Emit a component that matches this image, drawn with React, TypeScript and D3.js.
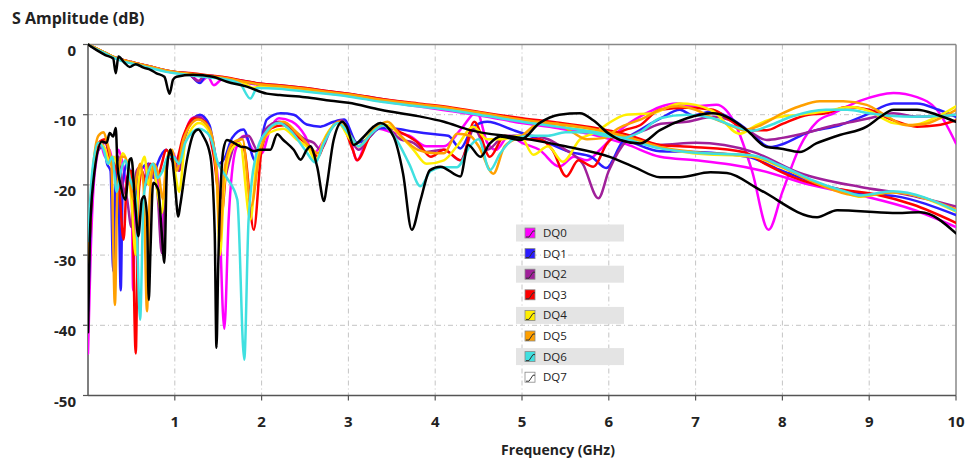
import React from "react";
import * as d3 from "d3";

type Pt = [number, number];

const xTicks = [1, 2, 3, 4, 5, 6, 7, 8, 9, 10];
const yTicks = [0, -10, -20, -30, -40, -50];
const seriesNames = ["DQ0", "DQ1", "DQ2", "DQ3", "DQ4", "DQ5", "DQ6", "DQ7"];
const seriesColors = ["#ff00ff", "#2b1cff", "#a0209a", "#ff0000", "#ffee00", "#ffa000", "#40e0e0", "#000000"];

// Insertion loss curves (top group)
const IL_DQ0: Pt[] = [[0,0],[0.1,-0.7],[0.2,-1.3],[0.3,-1.9],[0.4,-2.3],[0.5,-2.6],[0.6,-2.9],[0.7,-3.2],[0.8,-3.5],[0.9,-3.8],[1.0,-4.0],[1.15,-4.2],[1.3,-5.3],[1.38,-4.6],[1.45,-5.8],[1.55,-4.9],[1.8,-5.4],[2.0,-5.8],[2.2,-6.0],[2.5,-6.4],[2.8,-6.9],[3.0,-7.2],[3.4,-8.1],[3.8,-8.8],[4.2,-9.5],[4.6,-10.3],[5.0,-11.2],[5.4,-11.9],[5.8,-12.8],[6.2,-14.2],[6.59,-16],[7.0,-16.5],[7.4,-17.1],[7.74,-17.9],[8.32,-20],[8.97,-21.7],[9.5,-23.5],[10,-26]];
const IL_DQ1: Pt[] = [[0,0],[0.1,-0.6],[0.2,-1.2],[0.3,-1.8],[0.4,-2.2],[0.5,-2.5],[0.6,-2.8],[0.7,-3.1],[0.8,-3.4],[0.9,-3.7],[1.0,-3.9],[1.15,-4.1],[1.29,-5.5],[1.36,-4.4],[1.6,-4.8],[1.8,-5.3],[2.0,-5.7],[2.2,-5.9],[2.5,-6.3],[2.8,-6.8],[3.0,-7.1],[3.4,-7.9],[3.8,-8.6],[4.2,-9.3],[4.6,-10.0],[5.0,-10.8],[5.4,-11.5],[5.8,-12.3],[6.2,-13.6],[6.59,-15.2],[7.0,-15.3],[7.6,-16.0],[8.0,-18.0],[8.4,-19.8],[8.9,-21.2],[9.3,-21.6],[10,-24.3]];
const IL_DQ2: Pt[] = [[0,0],[0.1,-0.6],[0.2,-1.2],[0.3,-1.8],[0.4,-2.2],[0.5,-2.5],[0.6,-2.8],[0.7,-3.1],[0.8,-3.4],[0.9,-3.7],[1.0,-3.9],[1.15,-4.1],[1.27,-5.2],[1.35,-4.4],[1.6,-4.8],[1.8,-5.2],[2.0,-5.6],[2.2,-5.8],[2.5,-6.2],[2.8,-6.7],[3.0,-7.0],[3.4,-7.8],[3.8,-8.5],[4.2,-9.2],[4.6,-9.9],[5.0,-10.7],[5.4,-11.4],[5.8,-12.1],[6.2,-13.2],[6.59,-14.3],[7.0,-14.0],[7.66,-15.3],[8.2,-18.3],[8.9,-20.3],[9.4,-21.3],[10,-23.1]];
const IL_DQ3: Pt[] = [[0,0],[0.1,-0.6],[0.2,-1.2],[0.3,-1.8],[0.4,-2.2],[0.5,-2.5],[0.6,-2.8],[0.7,-3.1],[0.8,-3.4],[0.9,-3.7],[1.0,-3.9],[1.2,-4.1],[1.4,-4.4],[1.6,-4.7],[1.8,-5.2],[2.0,-5.6],[2.2,-5.8],[2.5,-6.2],[2.8,-6.7],[3.0,-7.0],[3.4,-7.8],[3.8,-8.4],[4.2,-9.0],[4.6,-9.8],[5.0,-10.5],[5.4,-11.1],[5.8,-11.8],[6.2,-12.8],[6.59,-14.3],[6.97,-14.6],[7.55,-15.3],[7.8,-17],[8.12,-18.9],[8.4,-20],[8.7,-20.7],[9.09,-21.4],[9.5,-22.8],[10,-25.4]];
const IL_DQ4: Pt[] = [[0,0],[0.1,-0.6],[0.2,-1.2],[0.3,-1.8],[0.4,-2.3],[0.5,-2.6],[0.6,-2.9],[0.7,-3.2],[0.8,-3.5],[0.9,-3.8],[1.0,-4.0],[1.2,-4.3],[1.4,-4.6],[1.6,-4.9],[1.8,-5.5],[1.9,-6.2],[2.0,-5.9],[2.2,-6.1],[2.5,-6.5],[2.8,-7.0],[3.0,-7.3],[3.4,-8.1],[3.8,-8.7],[4.2,-9.3],[4.6,-10.1],[5.0,-10.9],[5.4,-11.6],[5.8,-12.3],[6.2,-13.4],[6.59,-14.7],[6.97,-15.5],[7.66,-16],[7.97,-17.4],[8.32,-19.3],[8.74,-21.2],[8.9,-21.7],[9.27,-21],[10,-23.8]];
const IL_DQ5: Pt[] = [[0,0],[0.1,-0.6],[0.2,-1.2],[0.3,-1.8],[0.4,-2.2],[0.5,-2.5],[0.6,-2.8],[0.7,-3.1],[0.8,-3.4],[0.9,-3.7],[1.0,-3.9],[1.2,-4.2],[1.4,-4.5],[1.6,-4.8],[1.8,-5.3],[2.0,-5.7],[2.2,-5.9],[2.5,-6.3],[2.8,-6.8],[3.0,-7.1],[3.4,-7.9],[3.8,-8.5],[4.2,-9.1],[4.6,-9.9],[5.0,-10.7],[5.4,-11.3],[5.8,-12.0],[6.2,-13.1],[6.59,-14.6],[6.97,-15.3],[7.66,-15.9],[7.97,-17.3],[8.32,-19.4],[8.74,-21.3],[8.9,-21.6],[9.27,-21.1],[10,-23.5]];
const IL_DQ6: Pt[] = [[0,0],[0.1,-0.7],[0.2,-1.3],[0.3,-1.9],[0.4,-2.4],[0.5,-2.7],[0.6,-3.0],[0.7,-3.3],[0.8,-3.6],[0.9,-3.9],[1.0,-4.1],[1.2,-4.4],[1.4,-4.7],[1.6,-5.0],[1.75,-5.6],[1.87,-7.7],[1.95,-6.2],[2.2,-6.3],[2.5,-6.7],[2.8,-7.1],[3.0,-7.4],[3.4,-8.2],[3.8,-8.8],[4.2,-9.4],[4.6,-10.2],[5.0,-11.0],[5.4,-11.7],[5.8,-12.4],[6.2,-13.5],[6.59,-14.8],[6.97,-15.4],[7.66,-15.8],[7.97,-17.2],[8.32,-19.2],[8.74,-21.0],[8.9,-21.5],[9.27,-20.9],[10,-23.7]];
const IL_DQ7: Pt[] = [[0,0],[0.1,-0.8],[0.2,-1.5],[0.29,-2],[0.32,-4.1],[0.35,-1.7],[0.42,-2.6],[0.48,-3.2],[0.55,-2.8],[0.64,-3.3],[0.72,-3.6],[0.79,-4.1],[0.88,-4.6],[0.94,-7],[0.98,-5],[1.02,-4.6],[1.21,-4.3],[1.44,-4.6],[1.6,-5.3],[1.83,-6],[2.06,-7],[2.21,-7.2],[2.5,-7.5],[2.8,-8],[3.0,-8.3],[3.37,-9.3],[3.8,-10.2],[4.1,-11],[4.4,-12.2],[4.98,-13.3],[5.5,-14.5],[6.01,-16],[6.3,-17.5],[6.59,-18.9],[6.82,-18.9],[7.17,-18.2],[7.36,-18.3],[7.74,-20.7],[8.4,-24.6],[8.63,-23.6],[9.27,-24],[9.59,-23.9],[10,-26.9]];

// Return loss curves
const RL_DQ0: Pt[] = [[0,-44],[0.03,-30],[0.08,-18],[0.15,-14.5],[0.2,-16],[0.25,-15],[0.3,-18],[0.35,-15],[0.4,-17],[0.45,-20],[0.5,-19],[0.52,-35],[0.55,-20],[0.6,-18],[0.65,-17.5],[0.7,-20],[0.75,-17],[0.8,-19],[0.85,-29],[0.88,-20],[0.95,-15],[1.0,-16],[1.05,-18],[1.1,-14],[1.2,-10.5],[1.3,-10.2],[1.4,-12],[1.5,-20],[1.57,-40.5],[1.62,-25],[1.7,-15],[1.8,-13],[1.9,-15],[2.0,-15.5],[2.1,-12],[2.2,-10.5],[2.35,-11],[2.5,-13],[2.6,-15.5],[2.7,-14],[2.8,-12],[2.9,-11],[3.0,-12.5],[3.1,-16.5],[3.2,-14],[3.35,-12],[3.5,-12.5],[3.7,-13],[3.9,-14.5],[4.1,-14.5],[4.3,-12],[4.48,-9.6],[4.6,-14],[4.7,-15],[4.85,-13],[5.0,-14],[5.2,-15],[5.43,-17.4],[5.6,-16],[5.75,-16.5],[5.9,-15],[6.1,-12.5],[6.4,-10],[6.78,-8.4],[7.0,-8.8],[7.24,-8.6],[7.47,-11.7],[7.65,-18],[7.84,-26.4],[8.0,-21],[8.2,-14.6],[8.4,-11],[8.59,-9.8],[8.9,-8],[9.28,-6.9],[9.55,-7.5],[9.78,-9.3],[10,-14.1]];
const RL_DQ1: Pt[] = [[0,-38],[0.05,-20],[0.12,-15],[0.18,-14.5],[0.22,-17],[0.26,-18],[0.29,-32.3],[0.32,-18],[0.35,-20],[0.377,-35],[0.4,-20],[0.45,-17],[0.5,-19],[0.55,-22],[0.6,-18],[0.7,-17],[0.75,-19],[0.8,-17],[0.9,-15],[1.0,-17],[1.05,-16],[1.15,-12],[1.29,-10],[1.4,-11.5],[1.5,-17],[1.58,-16],[1.66,-13.3],[1.79,-12.1],[1.93,-16.6],[2.06,-10.7],[2.22,-9.8],[2.37,-10],[2.52,-11.4],[2.68,-11.7],[2.83,-11],[2.95,-10.7],[3.1,-14],[3.2,-13.6],[3.37,-11.9],[3.55,-12],[3.75,-12.4],[4.0,-12.8],[4.15,-13],[4.29,-14.8],[4.44,-11.7],[4.6,-11],[4.9,-12.2],[5.2,-13.5],[5.55,-15.3],[5.8,-16],[5.97,-17.6],[6.15,-14],[6.36,-12.2],[6.6,-10.5],[6.82,-9.3],[6.97,-10.1],[7.2,-9.5],[7.4,-10.5],[7.6,-12.2],[7.86,-14.6],[8.0,-14.2],[8.3,-12.5],[8.66,-11.5],[8.97,-10],[9.28,-8.4],[9.55,-8.4],[9.8,-9.3],[10,-10.3]];
const RL_DQ2: Pt[] = [[0,-36],[0.05,-20],[0.12,-15],[0.2,-14],[0.25,-16],[0.3,-18],[0.35,-16],[0.4,-20],[0.45,-22],[0.5,-26],[0.52,-24],[0.56,-18],[0.6,-17.5],[0.65,-19],[0.7,-17],[0.75,-18],[0.8,-21],[0.85,-29.7],[0.9,-19],[0.95,-15],[1.0,-17],[1.05,-18],[1.12,-13],[1.25,-10.3],[1.35,-11],[1.45,-15],[1.52,-22],[1.6,-18],[1.7,-14],[1.85,-13],[1.95,-15],[2.05,-12],[2.2,-11],[2.35,-12],[2.5,-13.5],[2.6,-14],[2.68,-15],[2.8,-12],[2.92,-10.8],[3.05,-14],[3.12,-15],[3.25,-13],[3.4,-11.5],[3.6,-13.5],[3.75,-14],[3.9,-15.3],[4.1,-15],[4.29,-16.5],[4.45,-12],[4.6,-15],[4.75,-13.5],[4.9,-13],[5.1,-13],[5.3,-13.5],[5.5,-15],[5.7,-17],[5.88,-21.9],[6.0,-18],[6.21,-13.6],[6.45,-12],[6.6,-11.3],[6.9,-11],[7.2,-10.3],[7.4,-10.8],[7.6,-12.2],[7.82,-13.6],[8.0,-13.3],[8.3,-12.5],[8.6,-11.5],[8.81,-11],[9.0,-10.5],[9.28,-9.8],[9.55,-10.3],[9.8,-10.2],[10,-10]];
const RL_DQ3: Pt[] = [[0,-34],[0.05,-20],[0.12,-14],[0.2,-13.5],[0.25,-16],[0.3,-17],[0.35,-19],[0.41,-27.8],[0.45,-19],[0.5,-18],[0.55,-44],[0.58,-22],[0.62,-18],[0.67,-20],[0.72,-17],[0.8,-19],[0.85,-17],[0.9,-15],[1.0,-17],[1.1,-13],[1.22,-10.5],[1.35,-11],[1.45,-16],[1.54,-24],[1.6,-17],[1.7,-14],[1.8,-15],[1.91,-26.4],[2.0,-15],[2.1,-12],[2.25,-11.5],[2.4,-13],[2.55,-14.5],[2.65,-16],[2.75,-13],[2.9,-11],[3.05,-15],[3.1,-16.5],[3.25,-13],[3.4,-11.5],[3.6,-12.5],[3.8,-14],[3.95,-16],[4.1,-15],[4.3,-16.5],[4.45,-11],[4.63,-16],[4.8,-13],[5.0,-13.5],[5.2,-13.5],[5.35,-15],[5.51,-18.8],[5.65,-16.5],[5.82,-17.4],[5.98,-14.1],[6.13,-12.5],[6.36,-11.5],[6.59,-9.3],[6.9,-9],[7.2,-9.3],[7.4,-10.8],[7.59,-12.2],[7.82,-12.2],[8.0,-11.3],[8.3,-10],[8.5,-9.8],[8.74,-8.9],[9.0,-9.3],[9.28,-10.8],[9.55,-11.7],[9.78,-11.5],[10,-10.8]];
const RL_DQ4: Pt[] = [[0,-30],[0.05,-19],[0.12,-14],[0.2,-15],[0.25,-17],[0.3,-16],[0.35,-17.5],[0.4,-15.5],[0.45,-17],[0.5,-22],[0.55,-30],[0.58,-20],[0.62,-17],[0.65,-16],[0.7,-20],[0.75,-17],[0.8,-21],[0.85,-24],[0.9,-17],[0.95,-15],[1.0,-18],[1.05,-21],[1.12,-14],[1.28,-11.2],[1.4,-12.5],[1.48,-18],[1.52,-30],[1.57,-20],[1.65,-15],[1.75,-14],[1.87,-25],[1.95,-16],[2.1,-12.5],[2.25,-12],[2.4,-13.5],[2.55,-15],[2.62,-16.5],[2.72,-13.5],[2.88,-11.2],[3.02,-13.5],[3.12,-14.5],[3.3,-12],[3.45,-11.5],[3.6,-13],[3.75,-15],[3.9,-17],[4.1,-16.5],[4.25,-14.5],[4.44,-11.7],[4.6,-13.5],[4.75,-13.5],[4.98,-13],[5.13,-15.7],[5.3,-14.5],[5.47,-16.7],[5.67,-13.5],[5.85,-12.5],[6.0,-11.2],[6.2,-10],[6.5,-9.8],[6.82,-8.4],[7.0,-8.6],[7.2,-9.5],[7.51,-12.7],[7.7,-11.5],[7.9,-10.5],[8.2,-10],[8.5,-9.5],[8.8,-8.9],[9.0,-9.5],[9.28,-11.2],[9.5,-11.5],[9.75,-10.5],[10,-8.8]];
const RL_DQ5: Pt[] = [[0,-32],[0.05,-19],[0.12,-13],[0.18,-12.5],[0.22,-14],[0.27,-17],[0.31,-37.1],[0.34,-20],[0.38,-16],[0.42,-16],[0.47,-18],[0.52,-22],[0.56,-19],[0.6,-17],[0.64,-20],[0.68,-38],[0.71,-22],[0.76,-17],[0.82,-19],[0.86,-22],[0.92,-16],[0.97,-15],[1.02,-18],[1.1,-13.5],[1.27,-10.7],[1.4,-12],[1.48,-18],[1.52,-28],[1.57,-18],[1.67,-14],[1.78,-13.5],[1.88,-23],[1.97,-16],[2.1,-12],[2.25,-11],[2.4,-12.5],[2.55,-14.5],[2.65,-15.5],[2.75,-13],[2.9,-11],[3.05,-13.5],[3.12,-14.5],[3.3,-12],[3.45,-11],[3.6,-13],[3.8,-15],[4.0,-15.5],[4.1,-15.5],[4.25,-12.7],[4.4,-13],[4.5,-14.5],[4.67,-18.4],[4.8,-14.5],[5.0,-13],[5.2,-11.3],[5.4,-11.3],[5.58,-12.5],[5.75,-13.5],[5.95,-13.3],[6.1,-12],[6.4,-10.5],[6.59,-9.3],[6.8,-8.8],[7.0,-9.3],[7.2,-10.5],[7.4,-11.5],[7.55,-12.2],[7.75,-11.5],[7.97,-10],[8.2,-8.8],[8.43,-8.1],[8.7,-8.1],[8.97,-8.6],[9.2,-10.2],[9.43,-11.5],[9.65,-11.3],[9.85,-10.3],[10,-9.3]];
const RL_DQ6: Pt[] = [[0,-28],[0.05,-18],[0.12,-14],[0.18,-15],[0.23,-17],[0.28,-16],[0.33,-21],[0.38,-18],[0.43,-16.5],[0.48,-19],[0.55,-22],[0.6,-39.2],[0.64,-22],[0.7,-18],[0.75,-17],[0.8,-19],[0.86,-18],[0.92,-16],[0.98,-16],[1.05,-17],[1.12,-14],[1.28,-12],[1.4,-13],[1.5,-17],[1.6,-19],[1.72,-22.1],[1.8,-44.9],[1.85,-25],[1.95,-15],[2.05,-12.5],[2.2,-11.2],[2.35,-12.5],[2.5,-15],[2.62,-16.8],[2.72,-14],[2.88,-11.2],[3.02,-13],[3.12,-14.5],[3.28,-12.5],[3.4,-11.5],[3.55,-13.5],[3.7,-17],[3.83,-20.2],[3.95,-18],[4.1,-17.5],[4.25,-17.5],[4.4,-14.5],[4.5,-13.5],[4.63,-17.9],[4.75,-15.5],[4.9,-13.5],[5.1,-13],[5.3,-13],[5.5,-12.5],[5.75,-12.5],[5.95,-13],[6.15,-13.3],[6.36,-12.5],[6.59,-10.5],[6.9,-10],[7.2,-10.5],[7.45,-11.7],[7.65,-12.3],[7.86,-11.5],[8.1,-10.3],[8.5,-9.3],[8.75,-9.3],[9.0,-9.8],[9.28,-10.2],[9.5,-10.3],[9.8,-10.2],[10,-10]];
const RL_DQ7: Pt[] = [[0,-41],[0.02,-27.8],[0.06,-19.7],[0.16,-13.8],[0.215,-14],[0.25,-12.6],[0.29,-13.1],[0.32,-11.9],[0.34,-17.4],[0.37,-19.7],[0.43,-22.1],[0.48,-16.4],[0.5,-16.2],[0.54,-22.1],[0.58,-27.3],[0.62,-22.1],[0.65,-21.6],[0.68,-24.5],[0.7,-36.4],[0.72,-29.2],[0.75,-19.7],[0.81,-20.7],[0.85,-26.9],[0.88,-31.1],[0.91,-17.4],[0.95,-15],[1.0,-19.7],[1.04,-24.5],[1.06,-23.1],[1.14,-16.4],[1.22,-12.6],[1.27,-12.1],[1.33,-13.1],[1.41,-15.9],[1.46,-26.9],[1.48,-43.2],[1.5,-31.6],[1.56,-15],[1.6,-13.6],[1.68,-14],[1.75,-14.5],[1.83,-14.7],[1.91,-15.2],[1.98,-15],[2.1,-15],[2.18,-12.8],[2.25,-13.6],[2.37,-15],[2.45,-16.4],[2.52,-15],[2.56,-14.5],[2.64,-17.4],[2.72,-22.3],[2.75,-20.2],[2.83,-13.6],[2.93,-11],[2.98,-11.7],[3.06,-14.3],[3.18,-13.1],[3.29,-11.7],[3.37,-11.2],[3.52,-13.1],[3.63,-18.4],[3.73,-26.4],[3.83,-22.2],[3.94,-17.9],[4.06,-17.4],[4.29,-18.8],[4.38,-14.3],[4.52,-16],[4.63,-14.1],[4.75,-13.1],[4.98,-13.6],[5.2,-11.2],[5.43,-10],[5.67,-9.8],[5.82,-10.8],[6.0,-12.7],[6.13,-13.6],[6.36,-14.1],[6.59,-12.2],[6.9,-10.5],[7.2,-9.8],[7.36,-10.3],[7.59,-12.2],[7.82,-14.6],[7.97,-14.8],[8.2,-15.3],[8.39,-14.1],[8.66,-12.9],[8.97,-11.7],[9.13,-10.3],[9.28,-9.3],[9.55,-9.3],[9.78,-10],[10,-11]];

const ilSeries = [IL_DQ0, IL_DQ1, IL_DQ2, IL_DQ3, IL_DQ4, IL_DQ5, IL_DQ6, IL_DQ7];
const rlSeries = [RL_DQ0, RL_DQ1, RL_DQ2, RL_DQ3, RL_DQ4, RL_DQ5, RL_DQ6, RL_DQ7];

const W = 968;
const H = 460;
const LEFT = 88;
const RIGHT = 956;
const TOP = 44.5;
const BOTTOM = 395.5;
const FONT = "'Open Sans', 'Noto Sans', sans-serif";

export default function App() {
  const x = d3.scaleLinear().domain([0, 10]).range([LEFT, RIGHT]);
  const y = d3.scaleLinear().domain([-50, 0]).range([BOTTOM, TOP]);
  const line = d3
    .line<Pt>()
    .x((d) => x(d[0]))
    .y((d) => y(d[1]))
    .curve(d3.curveMonotoneX);

  const legendX = 516;
  const legendY0 = 233;
  const legendStep = 20.6;

  return (
    <svg
      width={W}
      height={H}
      style={{ position: "absolute", left: 0, top: 0, background: "#fff" }}
      fontFamily={FONT}
    >
      <defs>
        <clipPath id="plotClip">
          <rect x={LEFT} y={TOP - 2} width={RIGHT - LEFT} height={BOTTOM - TOP + 2} />
        </clipPath>
      </defs>
      <rect x={0} y={0} width={W} height={H} fill="#fff" />
      <text x={12} y={24} fontSize={16} fontWeight={700} fill="#222">
        S Amplitude (dB)
      </text>

      {/* grid */}
      <g stroke="#c4c4c4" strokeWidth={1} strokeDasharray="5,3,1,3">
        {xTicks.filter((t) => t < 10).map((t) => (
          <line key={"gx" + t} x1={x(t)} x2={x(t)} y1={TOP} y2={BOTTOM} />
        ))}
        {yTicks.filter((t) => t < 0 && t > -50).map((t) => (
          <line key={"gy" + t} x1={LEFT} x2={RIGHT} y1={y(t)} y2={y(t)} />
        ))}
      </g>

      {/* frame */}
      <line x1={LEFT} x2={RIGHT} y1={TOP} y2={TOP} stroke="#888" strokeWidth={1.5} />
      <line x1={RIGHT} x2={RIGHT} y1={TOP} y2={BOTTOM} stroke="#888" strokeWidth={1.5} />
      <line x1={LEFT} x2={LEFT} y1={TOP} y2={BOTTOM} stroke="#555" strokeWidth={1.5} />
      <line x1={LEFT} x2={RIGHT} y1={BOTTOM} y2={BOTTOM} stroke="#555" strokeWidth={1.5} />

      {/* ticks */}
      {xTicks.map((t) => (
        <g key={"tx" + t}>
          <line x1={x(t)} x2={x(t)} y1={BOTTOM} y2={BOTTOM + 5} stroke="#555" strokeWidth={1.2} />
          <text x={x(t)} y={427} fontSize={15} fontWeight={700} textAnchor="middle" fill="#222">
            {t}
          </text>
        </g>
      ))}
      {yTicks.map((t) => (
        <g key={"ty" + t}>
          <line x1={LEFT - 5} x2={LEFT} y1={y(t)} y2={y(t)} stroke="#555" strokeWidth={1.2} />
          <text x={76} y={y(t) + 11} fontSize={15} fontWeight={700} textAnchor="end" fill="#222">
            {t}
          </text>
        </g>
      ))}
      <text x={558} y={455} fontSize={14} fontWeight={700} textAnchor="middle" fill="#222">
        Frequency (GHz)
      </text>

      {/* curves */}
      <g clipPath="url(#plotClip)" fill="none" strokeWidth={2.5} strokeLinejoin="round" strokeLinecap="round">
        {seriesNames.map((n, i) => (
          <g key={n}>
            <path d={line(ilSeries[i]) || ""} stroke={seriesColors[i]} />
            <path d={line(rlSeries[i]) || ""} stroke={seriesColors[i]} />
          </g>
        ))}
      </g>

      {/* legend */}
      <g>
        {seriesNames.map((n, i) => {
          const cy = legendY0 + i * legendStep;
          const ix = legendX + 9;
          const iy = cy - 5;
          return (
            <g key={"lg" + n}>
              {i % 2 === 0 && (
                <rect x={legendX} y={cy - 8.5} width={108} height={17} fill="#e4e4e4" />
              )}
              <rect x={ix} y={iy} width={10} height={10} fill={i === 7 ? "#ffffff" : seriesColors[i]} stroke="#888" strokeWidth={0.8} />
              <polyline
                points={`${ix + 1},${iy + 9} ${ix + 4},${iy + 9} ${ix + 8},${iy + 3} ${ix + 10},${iy + 3}`}
                fill="none"
                stroke="#333"
                strokeWidth={1}
              />
              <text x={legendX + 27} y={cy + 4} fontSize={11.5} fill="#222">
                {n}
              </text>
            </g>
          );
        })}
      </g>
    </svg>
  );
}
